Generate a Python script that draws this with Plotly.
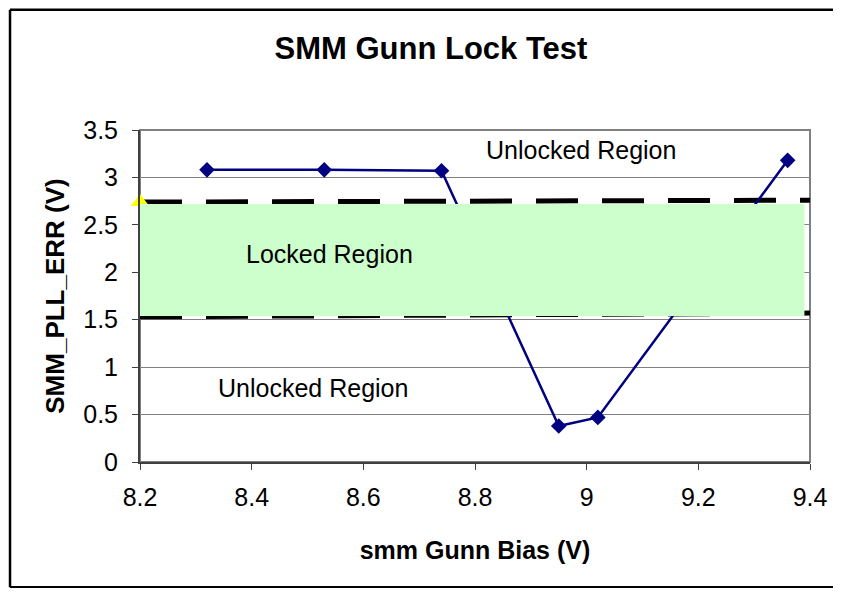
import plotly.graph_objects as go

# SMM Gunn lock test measurements
bias_v = [8.32, 8.53, 8.74, 8.95, 9.02, 9.36]
pll_err_v = [3.08, 3.08, 3.07, 0.38, 0.47, 3.18]

# lock window limits (dashed)
limit_x = [8.2, 9.4]
upper_limit = [2.74, 2.76]
lower_limit = [1.53, 1.57]

# lone reference marker at the left edge
ref_x = [8.2]
ref_y = [2.74]

# locked region box
box_x = [8.2, 9.39]
box_y = [1.54, 2.72]

FONT = "Arial, Liberation Sans, sans-serif"

fig = go.Figure()

fig.add_trace(
    go.Scatter(
        x=limit_x,
        y=upper_limit,
        mode="lines",
        line=dict(color="black", width=5, dash="42px,24px"),
        showlegend=False,
    )
)
fig.add_trace(
    go.Scatter(
        x=limit_x,
        y=lower_limit,
        mode="lines",
        line=dict(color="black", width=5, dash="42px,24px"),
        showlegend=False,
    )
)
fig.add_trace(
    go.Scatter(
        x=ref_x,
        y=ref_y,
        mode="markers",
        marker=dict(symbol="triangle-up", size=16, color="#FFFF00"),
        cliponaxis=False,
        showlegend=False,
    )
)
fig.add_trace(
    go.Scatter(
        x=bias_v,
        y=pll_err_v,
        mode="lines+markers",
        line=dict(color="#000080", width=2.5),
        marker=dict(symbol="diamond", size=12, color="#000080"),
        cliponaxis=False,
        showlegend=False,
    )
)

# green box covering the lock window
fig.add_shape(
    type="rect",
    x0=box_x[0], x1=box_x[1], y0=box_y[0], y1=box_y[1],
    xref="x", yref="y",
    fillcolor="#CCFFCC",
    line=dict(width=0),
    layer="above",
)

# plot area frame (top/right grey)
fig.add_shape(
    type="rect", x0=0, x1=1, y0=0, y1=1, xref="paper", yref="paper",
    line=dict(color="#808080", width=2), layer="below",
)

# outer chart border: left, top and bottom edges (right edge is off-canvas)
border = dict(color="black", width=2.5)
fig.add_shape(type="line", x0=-0.194, x1=-0.194, y0=-0.377, y1=1.362,
              xref="paper", yref="paper", line=border)
fig.add_shape(type="line", x0=-0.194, x1=1.2, y0=1.362, y1=1.362,
              xref="paper", yref="paper", line=border)
fig.add_shape(type="line", x0=-0.194, x1=1.2, y0=-0.377, y1=-0.377,
              xref="paper", yref="paper", line=border)

fig.add_annotation(x=8.99, y=3.29, text="Unlocked Region", showarrow=False,
                   font=dict(size=25, color="black", family=FONT))
fig.add_annotation(x=8.54, y=2.19, text="Locked Region", showarrow=False,
                   font=dict(size=25, color="black", family=FONT))
fig.add_annotation(x=8.51, y=0.78, text="Unlocked Region", showarrow=False,
                   font=dict(size=25, color="black", family=FONT))

fig.update_layout(
    width=825,
    height=580,
    paper_bgcolor="white",
    plot_bgcolor="white",
    margin=dict(l=132, r=23, t=122, b=126),
    font=dict(family=FONT, color="black", size=25),
    title=dict(
        text="<b>SMM Gunn Lock Test</b>",
        x=0.5127, xref="container", xanchor="center",
        y=0.931, yref="container", yanchor="middle",
        font=dict(size=31, family=FONT, color="black"),
    ),
    xaxis=dict(
        range=[8.2, 9.4],
        dtick=0.2,
        tick0=8.2,
        automargin=False,
        showgrid=False,
        zeroline=False,
        showline=True,
        linecolor="#404040",
        linewidth=2,
        ticks="outside",
        ticklen=6,
        tickcolor="#404040",
        ticklabelstandoff=6,
        title=dict(text="<b>smm Gunn Bias (V)</b>", font=dict(size=25), standoff=31),
    ),
    yaxis=dict(
        range=[0, 3.5],
        dtick=0.5,
        automargin=False,
        showgrid=True,
        gridcolor="#808080",
        gridwidth=1,
        zeroline=False,
        showline=True,
        linecolor="#404040",
        linewidth=2,
        ticks="outside",
        ticklen=6,
        tickcolor="#404040",
        ticklabelstandoff=9,
        title=dict(text="<b>SMM_PLL_ERR (V)</b>", font=dict(size=26), standoff=11),
    ),
)

fig.write_html("out.html")
